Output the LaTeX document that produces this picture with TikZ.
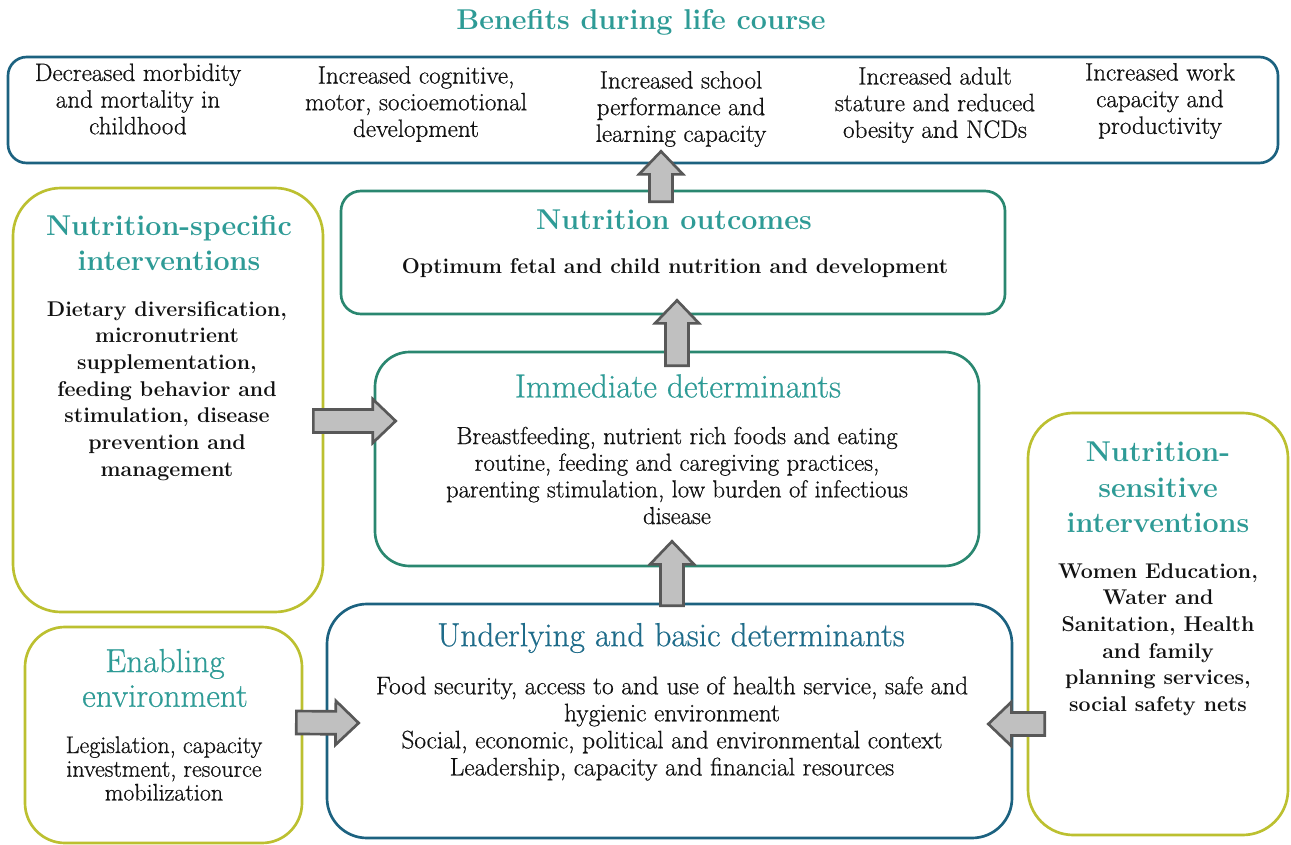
\documentclass[tikz,border=0pt]{standalone}
\usepackage{fontspec}
\newfontfamily\medfont{Latin Modern Roman}[FakeBold=0.6]
\usetikzlibrary{calc,fit}

\definecolor{tealtitle}{RGB}{46,155,150}
\definecolor{bluetitle}{RGB}{31,108,138}
\definecolor{blueframe}{RGB}{28,98,128}
\definecolor{greenframe}{RGB}{42,135,112}
\definecolor{oliveframe}{RGB}{188,192,48}
\definecolor{arrowfill}{RGB}{192,192,192}
\definecolor{arrowline}{RGB}{88,88,88}
\definecolor{bodytext}{RGB}{18,18,18}

\tikzset{
  frame/.style={draw, line width=2pt, inner sep=0pt, fill=white},
  blueframebox/.style={frame, draw=blueframe},
  greenframebox/.style={frame, draw=greenframe},
  oliveframebox/.style={frame, draw=oliveframe},
  titlebold/.style={text=tealtitle, align=center, inner sep=0pt,
    font=\fontsize{21.5}{26}\selectfont\bfseries},
  titlereg/.style={text=tealtitle, align=center, inner sep=0pt,
    font=\medfont\fontsize{25}{26}\selectfont},
  bodyreg/.style={text=bodytext, align=center, inner sep=0pt,
    font=\medfont\fontsize{18.5}{20}\selectfont},
  bodybold/.style={text=bodytext, align=center, inner sep=0pt,
    font=\fontsize{16}{20}\selectfont\bfseries},
  blockarrow/.style={draw=arrowline, fill=arrowfill, line width=2pt, line join=miter}
}

% broad flow arrow from a tail coordinate to a tip coordinate
\newcommand\flowarrow[2]{%
  \path coordinate (fa-base) at ($(#2)!17.25pt!(#1)$);
  \draw[blockarrow]
    ($(#1)!8.6pt!90:(#2)$) -- ($(fa-base)!8.6pt!90:(#2)$) --
    ($(fa-base)!16.5pt!90:(#2)$) -- (#2) --
    ($(fa-base)!16.5pt!-90:(#2)$) -- ($(fa-base)!8.6pt!-90:(#2)$) --
    ($(#1)!8.6pt!-90:(#2)$) -- cycle;}

\begin{document}
\begin{tikzpicture}[x=0.75pt, y=-0.75pt]
\useasboundingbox (0,0) rectangle (1291,845);

% ---------- frames ----------
\node[blueframebox, rounded corners=14pt, fit={(8,57) (1278,163)}] (benefits) {};
\node[greenframebox, rounded corners=15pt, fit={(341,191) (1005,314)}] (outcomes) {};
\node[greenframebox, rounded corners=26pt, fit={(375,352) (979,566)}] (immediate) {};
\node[oliveframebox, rounded corners=36pt, fit={(13,188) (323,612)}] (specific) {};
\node[oliveframebox, rounded corners=30pt, fit={(25,627) (302,843)}] (enabling) {};
\node[blueframebox, rounded corners=30pt, fit={(327,604) (1012,838)}] (underlying) {};
\node[oliveframebox, rounded corners=34pt, fit={(1028,413) (1288,835)}] (sensitive) {};

% ---------- arrow ends ----------
\coordinate (a1tail) at ($(outcomes.north)+(-12,12)$);
\coordinate (a1tip)  at ($(benefits.south)+(18,-13)$);
\coordinate (a2tail) at ($(immediate.north)+(0,15)$);
\coordinate (a2tip)  at ($(outcomes.south)+(4,-15)$);
\coordinate (a3tail) at ($(underlying.north)+(2.5,3)$);
\coordinate (a3tip)  at ($(immediate.south)+(-5,-26)$);
\coordinate (a4tail) at ($(specific.east)+(-11,21)$);
\coordinate (a4tip)  at ($(immediate.west)+(22,-38)$);
\coordinate (a5tail) at ($(enabling.east)+(-7,-12.5)$);
\coordinate (a5tip)  at ($(underlying.west)+(33,2)$);
\coordinate (a6tail) at ($(sensitive.west)+(18,100)$);
\coordinate (a6tip)  at ($(underlying.east)+(-25,3)$);

\flowarrow{a1tail}{a1tip}
\flowarrow{a2tail}{a2tip}
\flowarrow{a3tail}{a3tip}
\flowarrow{a4tail}{a4tip}
\flowarrow{a5tail}{a5tip}
\flowarrow{a6tail}{a6tip}

% ---------- benefits ----------
\node[titlebold] (benefitsT) at (641,22) {Benefits during life course};
\node[bodyreg, font=\medfont\fontsize{18.8}{20}\selectfont] (ben1) at (138,99) {Decreased morbidity\\and mortality in\\childhood};
\node[bodyreg, font=\medfont\fontsize{18.8}{20}\selectfont] (ben2) at (416,104) {Increased cognitive,\\motor, socioemotional\\development};
\node[bodyreg, font=\medfont\fontsize{18.8}{20}\selectfont] (ben3) at (681,109) {Increased school\\performance and\\learning capacity};
\node[bodyreg, font=\medfont\fontsize{18.8}{20}\selectfont] (ben4) at (935,105) {Increased adult\\stature and reduced\\obesity and NCDs};
\node[bodyreg, font=\medfont\fontsize{18.8}{20}\selectfont] (ben5) at (1160,101) {Increased work\\capacity and\\productivity};

% ---------- nutrition outcomes ----------
\node[titlebold] (outcomesT) at (674,220) {Nutrition outcomes};
\node[bodybold] (outcomesB) at (675,268) {Optimum fetal and child nutrition and development};

% ---------- immediate determinants ----------
\node[titlereg] (immediateT) at (678,386) {Immediate determinants};
\node[bodyreg] (immediateB) at (677,475.5) {Breastfeeding, nutrient rich foods and eating\\routine, feeding and caregiving practices,\\parenting stimulation, low burden of infectious\\disease};

% ---------- underlying and basic determinants ----------
\node[titlereg, text=bluetitle] (underlyingT) at (671,638) {Underlying and basic determinants};
\node[bodyreg, font=\medfont\fontsize{19}{20.3}\selectfont] (underlyingB) at (672,728.5) {Food security, access to and use of health service, safe and\\hygienic environment\\Social, economic, political and environmental context\\Leadership, capacity and financial resources};

% ---------- nutrition-specific interventions ----------
\node[titlebold] (specificT) at (169,243) {Nutrition-specific\\interventions};
\node[bodybold] (specificB) at (167,391) {Dietary diversification,\\micronutrient\\supplementation,\\feeding behavior and\\stimulation, disease\\prevention and\\management};

% ---------- enabling environment ----------
\node[titlereg] (enablingT) at (165,678) {Enabling\\environment};
\node[bodyreg, font=\medfont\fontsize{18}{17.8}\selectfont] (enablingB) at (164,768.5) {Legislation, capacity\\investment, resource\\mobilization};

% ---------- nutrition-sensitive interventions ----------
\node[titlebold, font=\fontsize{21.5}{26.6}\selectfont\bfseries] (sensitiveT) at (1158,487.5) {Nutrition-\\sensitive\\interventions};
\node[bodybold] (sensitiveB) at (1158,639.5) {Women Education,\\Water and\\Sanitation, Health\\and family\\planning services,\\social safety nets};

\end{tikzpicture}
\end{document}
